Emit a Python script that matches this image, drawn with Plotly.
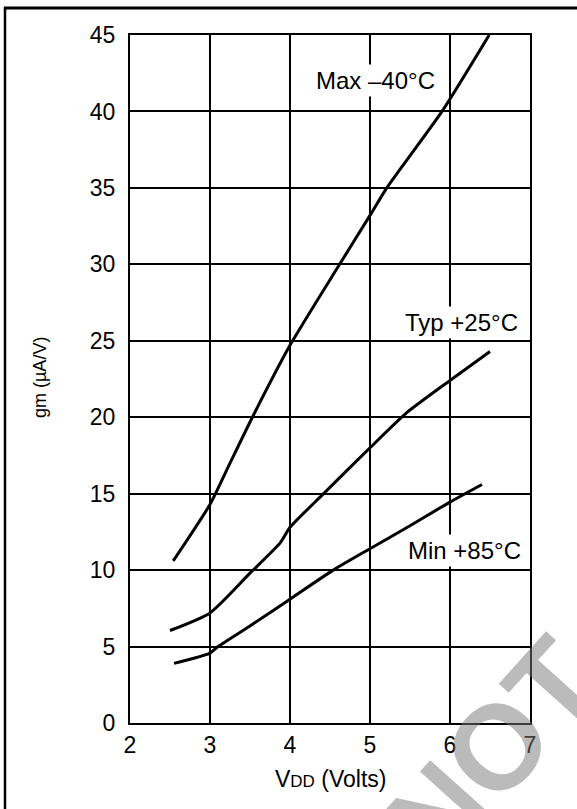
import plotly.graph_objects as go

# ---- data ----
max_x = [2.54, 3.0, 3.25, 3.53, 4.0, 4.62, 5.0, 5.21, 5.9, 6.49]
max_y = [10.6, 14.3, 17.0, 20.0, 24.7, 30.0, 33.2, 35.0, 40.0, 45.0]

typ_x = [2.5, 3.0, 3.5, 3.88, 4.0, 4.42, 5.0, 5.46, 6.0, 6.5]
typ_y = [6.05, 7.2, 9.8, 11.8, 12.8, 15.0, 18.0, 20.3, 22.4, 24.3]

min_x = [2.55, 3.0, 3.1, 3.5, 4.0, 4.54, 5.0, 5.5, 6.0, 6.4]
min_y = [3.9, 4.57, 5.0, 6.35, 8.1, 10.0, 11.4, 12.9, 14.45, 15.6]

x_ticks = [2, 3, 4, 5, 6, 7]
y_ticks = [0, 5, 10, 15, 20, 25, 30, 35, 40, 45]

labels = ["Max \u201340\u00b0C", "Typ +25\u00b0C", "Min +85\u00b0C"]
label_x = [5.07, 6.14, 6.18]
label_y = [42.0, 26.2, 11.3]

FONT = "Liberation Sans, Arial, Helvetica, sans-serif"

fig = go.Figure()
for xs, ys in [(max_x, max_y), (typ_x, typ_y), (min_x, min_y)]:
    fig.add_trace(go.Scatter(
        x=xs, y=ys, mode="lines",
        line=dict(color="black", width=3, shape="spline", smoothing=0.6),
        showlegend=False, hoverinfo="skip"))

W, H = 577, 809
L, R, T, B = 130, 47, 35, 86
pw, ph = W - L - R, H - T - B


def px2x(px):
    return (px - L) / pw


def py2y(py):
    return ((H - B) - py) / ph


for txt, lx, ly in zip(labels, label_x, label_y):
    fig.add_annotation(x=lx, y=ly, xref="x", yref="y", text=txt, showarrow=False,
                       font=dict(family=FONT, size=24, color="black"),
                       bgcolor="white", borderpad=2)

# axis titles
fig.add_annotation(x=px2x(40), y=py2y(378), xref="paper", yref="paper",
                   text="gm (\u00b5A/V)", textangle=-90, showarrow=False,
                   xanchor="center", yanchor="middle",
                   font=dict(family=FONT, size=18, color="black"))
fig.add_annotation(x=0.5, y=py2y(779), xref="paper", yref="paper",
                   text="V<span style='font-size:17px'>DD</span> (Volts)", showarrow=False,
                   xanchor="center", yanchor="middle",
                   font=dict(family=FONT, size=23, color="black"))

# watermark
fig.add_annotation(x=px2x(492), y=py2y(752), xref="paper", yref="paper",
                   text="<b>NOT</b>", textangle=-48, showarrow=False,
                   xanchor="center", yanchor="middle",
                   font=dict(family=FONT, size=120, color="rgba(120,120,120,0.5)"))

# outer frame (only left and top edges fall inside the page)
fig.add_shape(type="line", xref="paper", yref="paper",
              x0=px2x(5), x1=px2x(5), y0=py2y(860), y1=py2y(7),
              line=dict(color="black", width=2.5))
fig.add_shape(type="line", xref="paper", yref="paper",
              x0=px2x(4), x1=px2x(577), y0=py2y(8), y1=py2y(8),
              line=dict(color="black", width=3))

fig.update_xaxes(range=[2, 7], tickvals=x_ticks, ticktext=[str(v) for v in x_ticks],
                 showgrid=True, gridcolor="black", gridwidth=1.5,
                 showline=True, mirror=True, linecolor="black", linewidth=2,
                 zeroline=False, ticks="", ticklabelstandoff=0,
                 tickfont=dict(family=FONT, size=23, color="black"))
fig.update_yaxes(range=[0, 45], tickvals=y_ticks, ticktext=[str(v) for v in y_ticks],
                 showgrid=True, gridcolor="black", gridwidth=1.5,
                 showline=True, mirror=True, linecolor="black", linewidth=2,
                 zeroline=False, ticks="", ticklabelstandoff=8,
                 tickfont=dict(family=FONT, size=23, color="black"))

fig.update_layout(width=W, height=H, autosize=False,
                  margin=dict(l=L, r=R, t=T, b=B),
                  plot_bgcolor="white", paper_bgcolor="white",
                  showlegend=False)

fig.write_html("out.html", config={"displayModeBar": False},
               post_script="document.body.style.margin='0';document.body.style.overflow='hidden';")
